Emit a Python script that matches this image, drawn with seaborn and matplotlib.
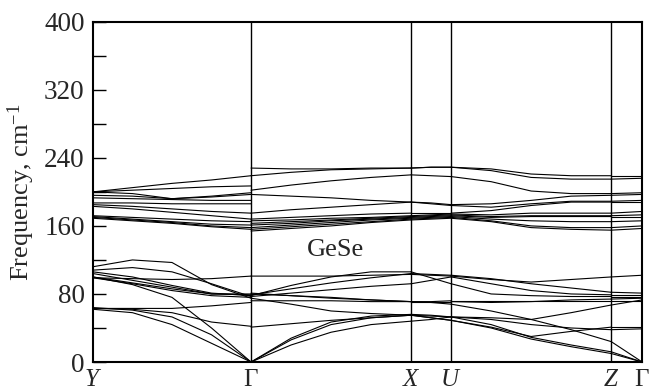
import numpy as np
import pandas as pd
import matplotlib
matplotlib.use('Agg')
import matplotlib.pyplot as plt
import seaborn as sns

# --- high-symmetry points along the path (path length units) ---
POINT_LABELS = ['$Y$', r'$\Gamma$', '$X$', '$U$', '$Z$', r'$\Gamma$']
POINT_POS = [0, 158, 318, 358, 518, 549]

# sample positions inside each segment (fraction of segment)
FRAC_5 = [0.0, 0.25, 0.5, 0.75, 1.0]
FRAC_3 = [0.0, 0.5, 1.0]
FRAC_2 = [0.0, 1.0]

# --- branch frequencies (cm^-1), one row per branch ---
Y_G = [
    [200, 205, 210, 214, 219],
    [200, 202, 204, 206, 207],
    [200, 198, 192, 195, 199],
    [196, 195, 192, 194, 197],
    [193, 192, 191, 190, 190],
    [187, 187, 186, 186, 186],
    [185, 183, 180, 177, 175],
    [183, 180, 176, 172, 168],
    [172, 170, 168, 166, 165],
    [171, 168, 165, 162, 161],
    [170, 167, 164, 160, 158],
    [169, 166, 163, 159, 156],
    [62, 58, 44, 22, 0],
    [64, 61, 53, 32, 0],
    [100, 91, 76, 40, 0],
    [63, 62, 58, 47, 42],
    [63, 63, 63, 66, 70],
    [99, 92, 84, 78, 76],
    [106, 100, 90, 81, 78],
    [99, 98, 97, 98, 101],
    [112, 120, 117, 91, 75],
    [108, 111, 106, 92, 77],
    [104, 96, 88, 80, 79],
    [100, 93, 86, 80, 80],
]

G_X = [
    [228, 227, 227, 228, 228],
    [219, 223, 226, 227, 228],
    [202, 208, 213, 217, 220],
    [197, 195, 193, 190, 188],
    [175, 179, 182, 185, 188],
    [168, 170, 172, 174, 175],
    [166, 167, 169, 170, 172],
    [163, 165, 167, 169, 171],
    [161, 163, 166, 168, 170],
    [158, 161, 164, 167, 169],
    [156, 159, 162, 165, 168],
    [154, 157, 160, 164, 167],
    [101, 101, 101, 102, 103],
    [78, 90, 100, 106, 106],
    [79, 86, 93, 99, 104],
    [77, 81, 85, 89, 92],
    [80, 78, 76, 73, 71],
    [72, 72, 72, 71, 71],
    [81, 78, 75, 73, 71],
    [75, 68, 60, 57, 55],
    [41, 45, 49, 52, 55],
    [0, 28, 47, 54, 56],
    [0, 26, 44, 52, 55],
    [0, 20, 35, 44, 48],
]

X_U = [
    [228, 229, 229],
    [228, 229, 229],
    [220, 219, 218],
    [188, 187, 185],
    [188, 186, 184],
    [175, 175, 175],
    [172, 173, 174],
    [171, 172, 173],
    [170, 171, 172],
    [169, 170, 171],
    [168, 169, 170],
    [167, 168, 169],
    [106, 99, 92],
    [104, 103, 102],
    [103, 102, 101],
    [92, 96, 100],
    [71, 71, 72],
    [71, 71, 71],
    [71, 70, 68],
    [56, 55, 53],
    [55, 54, 53],
    [55, 52, 49],
    [55, 52, 49],
    [48, 50, 53],
]

U_Z = [
    [229, 227, 221, 219, 219],
    [229, 225, 217, 215, 215],
    [218, 212, 201, 198, 198],
    [185, 186, 190, 195, 196],
    [184, 182, 186, 189, 189],
    [175, 178, 184, 188, 188],
    [174, 173, 175, 175, 175],
    [173, 171, 172, 172, 172],
    [172, 170, 171, 171, 171],
    [171, 168, 166, 165, 165],
    [170, 166, 160, 158, 158],
    [169, 165, 158, 156, 155],
    [101, 97, 94, 97, 100],
    [102, 98, 92, 87, 82],
    [100, 92, 84, 80, 79],
    [92, 80, 78, 77, 77],
    [72, 72, 72, 72, 72],
    [71, 70, 71, 73, 74],
    [68, 60, 50, 38, 24],
    [53, 52, 50, 58, 67],
    [53, 44, 29, 20, 12],
    [49, 40, 27, 18, 10],
    [49, 41, 30, 36, 41],
    [53, 50, 44, 40, 38],
]

Z_G = [
    [219, 219], [215, 216], [198, 199], [196, 197], [189, 190], [188, 188],
    [175, 177], [172, 173], [171, 171], [165, 166], [158, 160], [155, 157],
    [100, 102], [82, 81], [79, 79], [77, 77], [72, 72], [74, 75],
    [24, 0], [67, 73], [12, 0], [10, 0], [41, 41], [38, 39],
]

SEGMENTS = [(Y_G, FRAC_5), (G_X, FRAC_5), (X_U, FRAC_3), (U_Z, FRAC_5), (Z_G, FRAC_2)]


def main():
    # long table: one line id per branch per segment
    rows = []
    for s, (branches, fracs) in enumerate(SEGMENTS):
        k0, k1 = POINT_POS[s], POINT_POS[s + 1]
        for b, vals in enumerate(branches):
            for f, v in zip(fracs, vals):
                rows.append({'k': k0 + f * (k1 - k0), 'freq': v, 'line': f'{s}_{b}'})
    df = pd.DataFrame(rows)

    sns.set_theme(style='white')
    plt.rcParams['font.family'] = ['Liberation Serif', 'DejaVu Serif']
    plt.rcParams['mathtext.fontset'] = 'custom'
    plt.rcParams['mathtext.rm'] = 'Liberation Serif'
    plt.rcParams['mathtext.it'] = 'Liberation Serif:italic'

    fig = plt.figure(figsize=(6.5, 3.92), dpi=100)
    ax = fig.add_axes([0.143, 0.0765, 0.845, 0.868])

    sns.lineplot(data=df, x='k', y='freq', units='line', estimator=None,
                 sort=False, color='black', linewidth=0.8, ax=ax, legend=False)

    for p in POINT_POS[1:-1]:
        ax.axvline(p, color='black', linewidth=1.0)

    ax.set_xlim(POINT_POS[0], POINT_POS[-1])
    ax.set_ylim(0, 400)
    ax.set_xticks(POINT_POS)
    ax.set_xticklabels(POINT_LABELS, fontsize=18)
    ax.tick_params(axis='x', length=0, pad=5)

    ax.set_yticks(np.arange(0, 401, 80))
    ax.set_yticks(np.arange(40, 400, 80), minor=True)
    ax.tick_params(axis='y', which='both', direction='in', length=9, width=1.0,
                   labelsize=19.5, left=True, color='black', pad=6)
    ax.set_xlabel('')
    ax.set_ylabel('Frequency, cm$^{-1}$', fontsize=19, labelpad=5)

    for sp in ax.spines.values():
        sp.set_color('black')
        sp.set_linewidth(1.5)

    ax.text(242, 132, 'GeSe', fontsize=19, ha='center', va='center')

    fig.savefig('out.png', dpi=100)


if __name__ == '__main__':
    main()
